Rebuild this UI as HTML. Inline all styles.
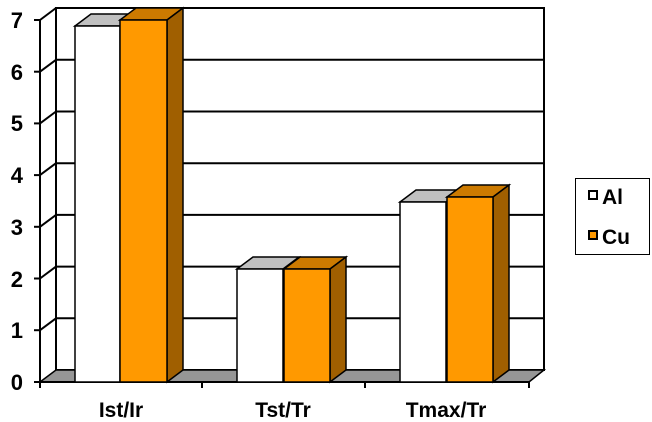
<!DOCTYPE html><html><head><style>body{margin:0;background:#fff}svg{display:block}text{font-family:"Liberation Sans",Arial,sans-serif;font-weight:bold}</style></head><body>
<svg width="652" height="422" xmlns="http://www.w3.org/2000/svg">
<g stroke="#000" stroke-width="2" fill="none">
<rect x="56" y="8" width="488" height="362" fill="#fff"/>
<line x1="56" y1="318.3" x2="544" y2="318.3"/><line x1="56" y1="266.6" x2="544" y2="266.6"/>
<line x1="56" y1="214.9" x2="544" y2="214.9"/><line x1="56" y1="163.2" x2="544" y2="163.2"/>
<line x1="56" y1="111.5" x2="544" y2="111.5"/><line x1="56" y1="59.8" x2="544" y2="59.8"/>
<line x1="40" y1="20" x2="40" y2="382"/>
<line x1="40" y1="20" x2="56" y2="8"/><line x1="40" y1="71.7" x2="56" y2="59.8"/><line x1="40" y1="123.4" x2="56" y2="111.5"/>
<line x1="40" y1="175.1" x2="56" y2="163.2"/><line x1="40" y1="226.8" x2="56" y2="214.9"/><line x1="40" y1="278.5" x2="56" y2="266.6"/>
<line x1="40" y1="330.2" x2="56" y2="318.3"/>
<polygon points="40,382 56,370 544,370 529,382" fill="#969696" stroke-width="1.5"/>
<line x1="34" y1="20" x2="40" y2="20"/><line x1="34" y1="71.7" x2="40" y2="71.7"/><line x1="34" y1="123.4" x2="40" y2="123.4"/>
<line x1="34" y1="175.1" x2="40" y2="175.1"/><line x1="34" y1="226.8" x2="40" y2="226.8"/><line x1="34" y1="278.5" x2="40" y2="278.5"/>
<line x1="34" y1="330.2" x2="40" y2="330.2"/><line x1="34" y1="382" x2="40" y2="382"/>
<line x1="40" y1="382" x2="529" y2="382"/>
<line x1="40" y1="382" x2="40" y2="388"/><line x1="202" y1="382" x2="202" y2="388"/><line x1="365" y1="382" x2="365" y2="388"/><line x1="529" y1="382" x2="529" y2="388"/>
</g>
<g stroke="#000" stroke-width="1.5">
<polygon points="75,26 91,14 136,14 120,26" fill="#c0c0c0"/>
<rect x="75" y="26" width="45" height="356" fill="#fff"/>
<polygon points="120,20 136,8 183,8 167,20" fill="#cc7a00"/>
<polygon points="167,20 183,8 183,370 167,382" fill="#a05f00"/>
<rect x="120" y="20" width="47" height="362" fill="#ff9900"/>
<polygon points="237,269 253,257 299,257 283,269" fill="#c0c0c0"/>
<rect x="237" y="269" width="46" height="113" fill="#fff"/>
<polygon points="284,269 300,257 346,257 330,269" fill="#cc7a00"/>
<polygon points="330,269 346,257 346,370 330,382" fill="#a05f00"/>
<rect x="284" y="269" width="46" height="113" fill="#ff9900"/>
<polygon points="400,202 416,190 462,190 446,202" fill="#c0c0c0"/>
<rect x="400" y="202" width="46" height="180" fill="#fff"/>
<polygon points="447,197 463,185 509,185 493,197" fill="#cc7a00"/>
<polygon points="493,197 509,185 509,370 493,382" fill="#a05f00"/>
<rect x="447" y="197" width="46" height="185" fill="#ff9900"/>
</g>
<g font-size="22" text-anchor="end">
<text x="23" y="28">7</text><text x="23" y="80">6</text><text x="23" y="131">5</text><text x="23" y="183">4</text>
<text x="23" y="235">3</text><text x="23" y="287">2</text><text x="23" y="338">1</text><text x="23" y="390">0</text>
</g>
<g font-size="21" text-anchor="middle">
<text x="121" y="417">Ist/Ir</text><text x="283" y="417">Tst/Tr</text><text x="446" y="417">Tmax/Tr</text>
</g>
<rect x="575.5" y="178.5" width="74" height="76" fill="#fff" stroke="#000"/>
<rect x="589" y="191" width="8" height="8" fill="#fff" stroke="#000" stroke-width="2"/>
<rect x="589" y="231" width="8" height="8" fill="#ff9900" stroke="#000" stroke-width="2"/>
<text x="602" y="204" font-size="21">Al</text>
<text x="602" y="244" font-size="21">Cu</text>
</svg>
</body></html>
